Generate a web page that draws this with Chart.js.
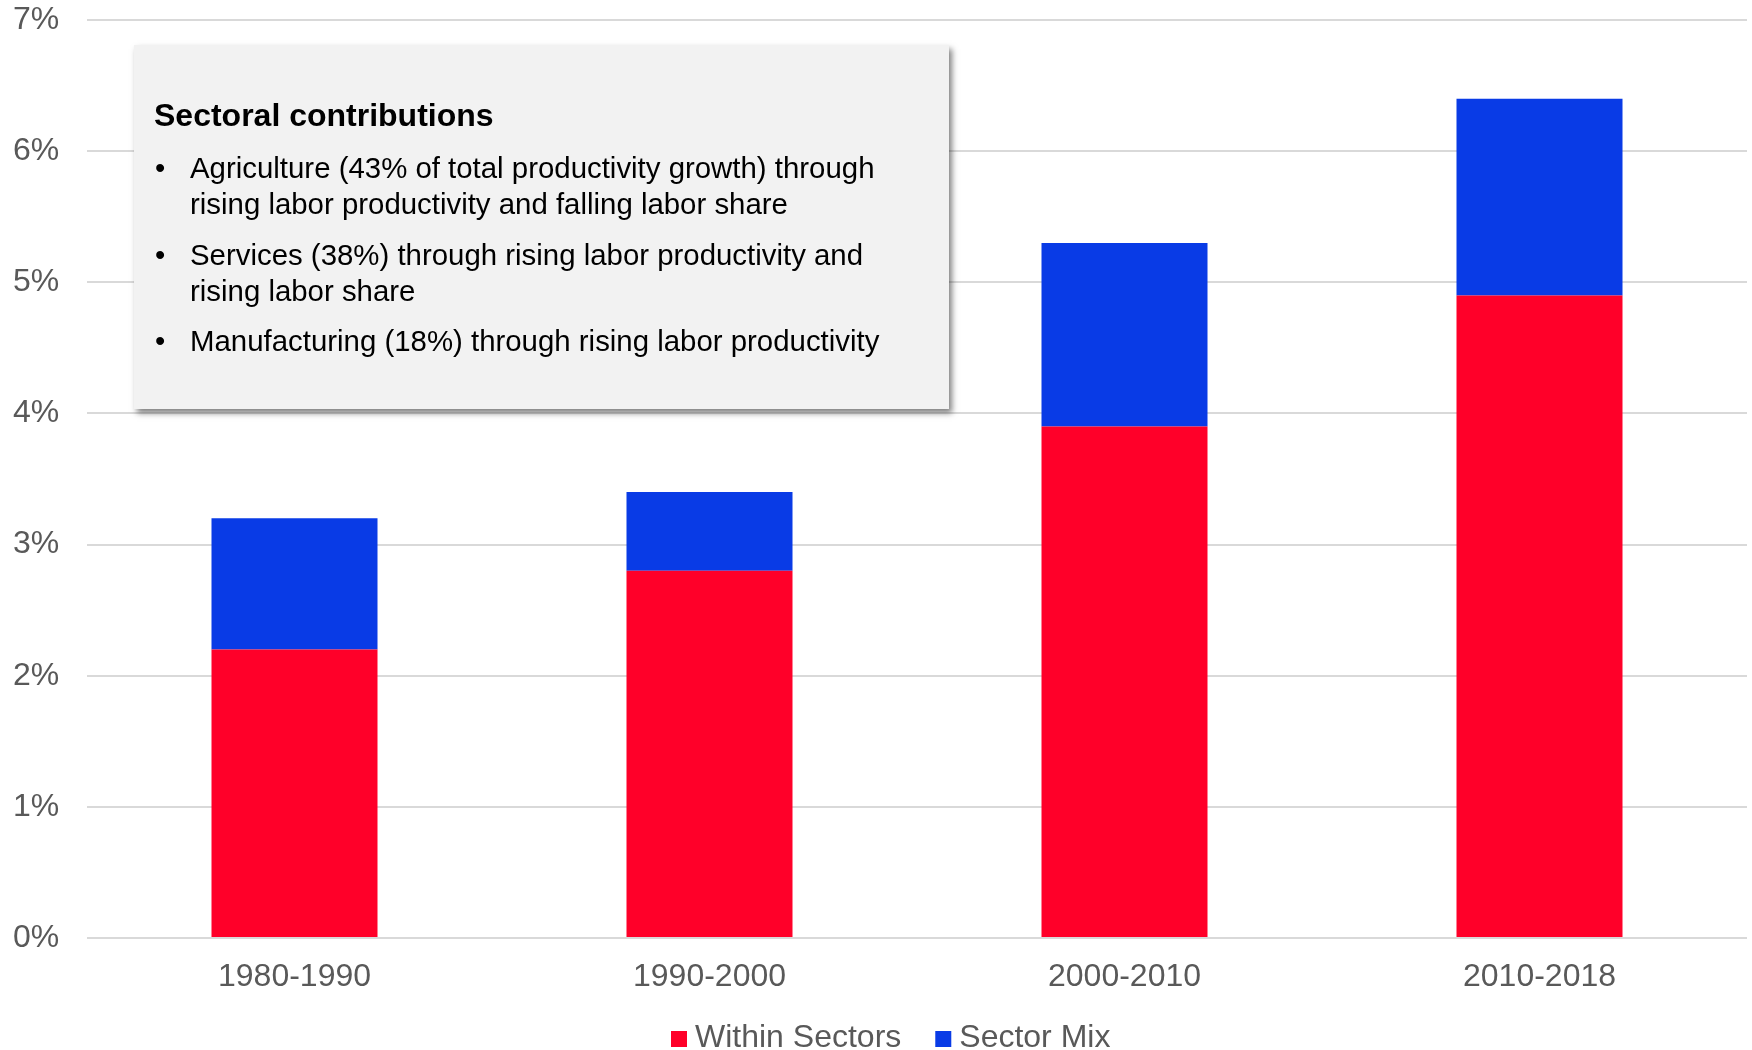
<!DOCTYPE html>
<html>
<head>
<meta charset="utf-8">
<script src="https://cdn.jsdelivr.net/npm/chart.js@4.4.1/dist/chart.umd.min.js"></script>
<style>
  html, body { margin: 0; padding: 0; background: #ffffff; }
  #wrap { width: 1752px; height: 1050px; position: relative; }
</style>
</head>
<body>
<div id="wrap"><canvas id="c" width="1752" height="1050"></canvas></div>
<script>
const categories = ['1980-1990', '1990-2000', '2000-2010', '2010-2018'];
const withinSectors = [2.2, 2.8, 3.9, 4.9];
const sectorMix = [1.0, 0.6, 1.4, 1.5];
const seriesNames = ['Within Sectors', 'Sector Mix'];
const yTicks = [0, 1, 2, 3, 4, 5, 6, 7];
const boxTitle = 'Sectoral contributions';
const boxBullets = [
  ['Agriculture (43% of total productivity growth) through', 'rising labor productivity and falling labor share'],
  ['Services (38%) through rising labor productivity and', 'rising labor share'],
  ['Manufacturing (18%) through rising labor productivity']
];

const FONT = "'Liberation Sans', Arial, Helvetica, sans-serif";
const GREY = '#595959';
const RED = '#FF0029';
const BLUE = '#093BE6';

const textBoxPlugin = {
  id: 'textBox',
  afterDraw(chart) {
    const ctx = chart.ctx;
    const x = 134, y = 45, w = 815, h = 364;
    ctx.save();
    ctx.shadowColor = 'rgba(0,0,0,0.5)';
    ctx.shadowBlur = 6;
    ctx.shadowOffsetX = 3;
    ctx.shadowOffsetY = 4;
    ctx.fillStyle = '#F2F2F2';
    ctx.fillRect(x, y, w, h);
    ctx.restore();

    ctx.save();
    ctx.fillStyle = '#000000';
    ctx.textBaseline = 'middle';
    ctx.textAlign = 'left';
    ctx.font = 'bold 32px ' + FONT;
    ctx.fillText(boxTitle, 154, 117);
    ctx.font = '29.4px ' + FONT;
    const lineH = 35.5;
    const starts = [170, 257, 343];
    boxBullets.forEach((lines, i) => {
      let yy = starts[i];
      ctx.fillText('\u2022', 155, yy);
      lines.forEach((ln, j) => {
        ctx.fillText(ln, 190, yy + j * lineH);
      });
    });
    ctx.restore();
  }
};

const legendPlugin = {
  id: 'customLegend',
  afterDraw(chart) {
    const ctx = chart.ctx;
    ctx.save();
    ctx.font = '32px ' + FONT;
    ctx.textBaseline = 'middle';
    const box = 16, gapBox = 8, gapItem = 34;
    const ds = chart.data.datasets;
    const widths = ds.map(d => box + gapBox + ctx.measureText(d.label).width);
    let x = 671;
    const cy = 1038;
    ds.forEach((d, i) => {
      ctx.fillStyle = d.backgroundColor;
      ctx.fillRect(x, cy - box / 2 + 1, box, box);
      ctx.fillStyle = GREY;
      ctx.fillText(d.label, x + box + gapBox, cy);
      x += widths[i] + gapItem;
    });
    ctx.restore();
  }
};

new Chart(document.getElementById('c'), {
  type: 'bar',
  data: {
    labels: categories,
    datasets: [
      { label: seriesNames[0], data: withinSectors, backgroundColor: RED, borderWidth: 0, categoryPercentage: 1.0, barPercentage: 0.4 },
      { label: seriesNames[1], data: sectorMix, backgroundColor: BLUE, borderWidth: 0, categoryPercentage: 1.0, barPercentage: 0.4 }
    ]
  },
  options: {
    responsive: false,
    animation: false,
    devicePixelRatio: 1,
    layout: { padding: { top: 20, right: 5, left: 13, bottom: 0 } },
    plugins: {
      legend: { display: false },
      tooltip: { enabled: false },
      title: { display: false }
    },
    scales: {
      x: {
        stacked: true,
        grid: { display: false, drawTicks: false },
        border: { display: false },
        ticks: { color: GREY, font: { family: FONT, size: 32 }, padding: 20 },
        afterFit(s) { s.height = 112; }
      },
      y: {
        stacked: true,
        min: 0,
        max: 7,
        afterBuildTicks(s) { s.ticks = yTicks.map(v => ({ value: v })); },
        grid: { color: '#D9D9D9', lineWidth: 2, drawTicks: false },
        border: { display: false },
        ticks: {
          color: GREY,
          font: { family: FONT, size: 32, lineHeight: 1.1 },
          padding: 0,
          crossAlign: 'far',
          callback: v => v + '%'
        },
        afterFit(s) { s.width = 74; }
      }
    }
  },
  plugins: [textBoxPlugin, legendPlugin]
});
</script>
</body>
</html>
